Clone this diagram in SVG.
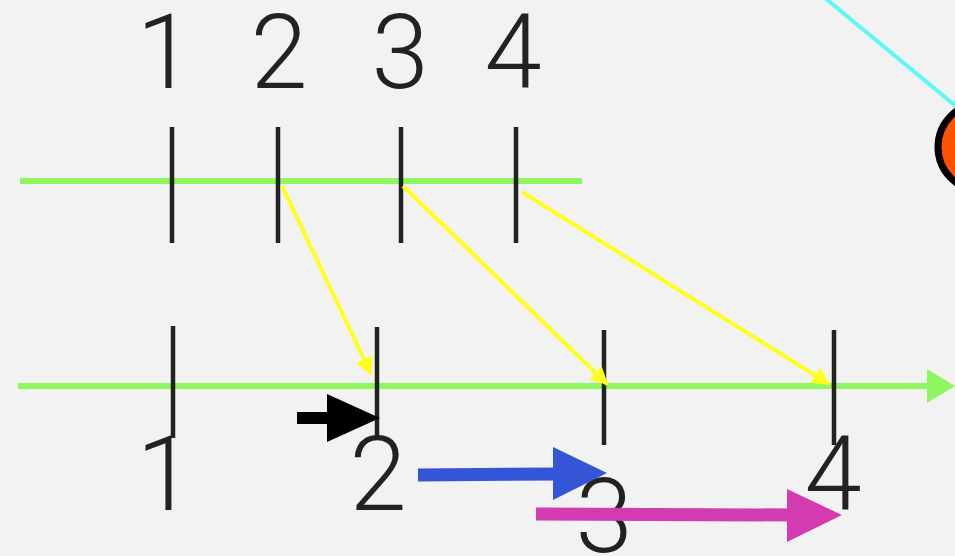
<svg xmlns="http://www.w3.org/2000/svg" width="955" height="556" viewBox="0 0 955 556">
<style>
.lbl{font-family:Roboto,"Liberation Sans",sans-serif;font-weight:300;font-size:103px;fill:#222;text-anchor:middle}
.tick{stroke:#222;stroke-width:4.5}
.green{stroke:#8ef65e;stroke-width:6}
.yel{stroke:#ffff1e;stroke-width:4;fill:none}
</style>
<defs>
<marker id="yh" viewBox="0 0 10 10" refX="9" refY="5" markerWidth="4.5" markerHeight="4.5" orient="auto" markerUnits="strokeWidth">
<path d="M0,0 L10,5 L0,10 Z" fill="#ffff1e"/>
</marker>
</defs>
<rect width="955" height="556" fill="#f2f2f2"/>
<line x1="825" y1="-2" x2="957" y2="107" stroke="#5ff8f8" stroke-width="4"/>
<g id="circle"><circle cx="982" cy="147" r="44" fill="#ff5200" stroke="#000" stroke-width="7"/></g>
<g id="top-axis">
<line class="green" x1="20" y1="181" x2="582" y2="181"/>
<line class="tick" x1="172" y1="127" x2="172" y2="243"/>
<line class="tick" x1="278" y1="127" x2="278" y2="243"/>
<line class="tick" x1="401" y1="127" x2="401" y2="243"/>
<line class="tick" x1="516" y1="127" x2="516" y2="243"/>
<text class="lbl" x="165" y="88">1</text>
<text class="lbl" x="279" y="88">2</text>
<text class="lbl" x="400" y="88">3</text>
<text class="lbl" x="513" y="88">4</text>
</g>
<g id="bottom-axis">
<line class="green" x1="18" y1="386" x2="930" y2="386"/>
<path d="M927,369 L955,386 L927,403 Z" fill="#8ef65e"/>
<line class="tick" x1="173" y1="326" x2="173" y2="438"/>
<line class="tick" x1="377" y1="327" x2="377" y2="440"/>
<line class="tick" x1="604" y1="330" x2="604" y2="445"/>
<line class="tick" x1="834" y1="330" x2="834" y2="445"/>
<text class="lbl" x="165" y="510">1</text>
<text class="lbl" x="378" y="510">2</text>
<text class="lbl" x="604" y="552">3</text>
<text class="lbl" x="833" y="510">4</text>
</g>
<g id="connectors">
<line class="yel" x1="282" y1="186" x2="371" y2="374" marker-end="url(#yh)"/>
<line class="yel" x1="403" y1="186" x2="607" y2="384" marker-end="url(#yh)"/>
<line class="yel" x1="522" y1="192" x2="829" y2="384" marker-end="url(#yh)"/>
<g id="black-arrow"><line x1="297" y1="418" x2="335" y2="418" stroke="#000" stroke-width="12"/><path d="M327,394 L380,418 L327,442 Z" fill="#000"/></g>
<g id="blue-arrow"><line x1="418" y1="475" x2="560" y2="474" stroke="#3355d6" stroke-width="13"/><path d="M553,447 L607,473 L553,500 Z" fill="#3355d6"/></g>
<g id="magenta-arrow"><line x1="536" y1="514" x2="795" y2="515" stroke="#d23cb0" stroke-width="13"/><path d="M787,489 L842,515 L787,542 Z" fill="#d23cb0"/></g>
</g>
</svg>
